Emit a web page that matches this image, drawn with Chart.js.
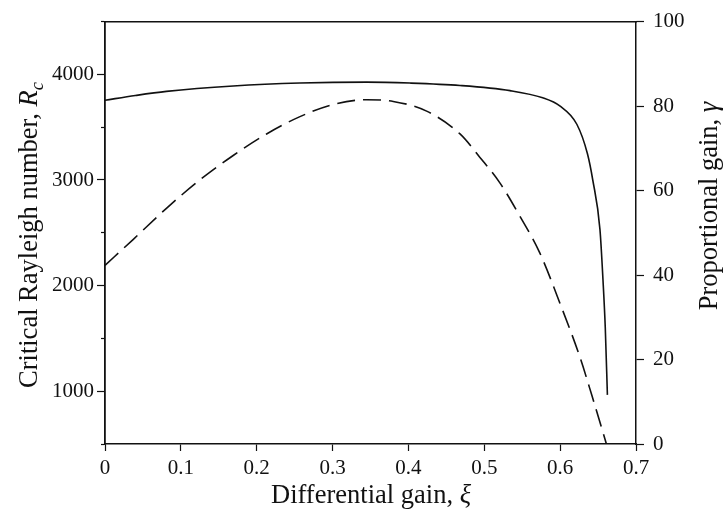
<!DOCTYPE html>
<html>
<head>
<meta charset="utf-8">
<script src="https://cdn.jsdelivr.net/npm/chart.js@4"></script>
<style>
  html, body { margin: 0; padding: 0; background: #fff; }
</style>
</head>
<body>
<canvas id="chart" width="723" height="510"></canvas>
<script>
// solid curve: critical Rayleigh number R_c (left axis)
const xiRc = [0, 0.04, 0.081, 0.169, 0.257, 0.345, 0.402, 0.468, 0.534, 0.577, 0.600, 0.622, 0.636, 0.643, 0.6525, 0.6565, 0.6595, 0.6623];
const rcValues = [3755, 3800, 3839, 3890, 3918, 3927, 3918, 3895, 3846, 3778, 3699, 3528, 3248, 3000, 2530, 2050, 1600, 965];

// dashed curve: proportional gain gamma (right axis)
const xiGamma = [0, 0.037, 0.081, 0.125, 0.169, 0.213, 0.257, 0.301, 0.345, 0.38, 0.424, 0.468, 0.494, 0.521, 0.547, 0.573, 0.600, 0.626, 0.642, 0.661];
const gammaValues = [42.3, 48.4, 55.8, 62.5, 68.3, 73.4, 77.5, 80.4, 81.5, 81.1, 78.8, 73.4, 67.9, 61.7, 53.9, 45.3, 33.2, 20.6, 11.4, 0];

// axis ranges
const xRange = [0, 0.7];
const rcRange = [500, 4500];
const gammaRange = [0, 100];

const ink = '#111';
const serif = 'Liberation Serif';

function toPoints(xs, ys) {
  return xs.map((x, i) => ({ x: x, y: ys[i] }));
}

// axis titles with italic symbols and subscript, drawn rotated like the original
const axisTitles = {
  id: 'axisTitles',
  afterDraw(chart) {
    const ctx = chart.ctx;
    drawRich(ctx, [
      { text: 'Critical Rayleigh number, ' },
      { text: 'R', italic: true },
      { text: 'c', italic: true, sub: true }
    ], 28, 235, -Math.PI / 2, 26.5);
    drawRich(ctx, [
      { text: 'Proportional gain, ' },
      { text: 'γ', italic: true }
    ], 708, 206, -Math.PI / 2, 26.5);
    drawRich(ctx, [
      { text: 'Differential gain, ' },
      { text: 'ξ', italic: true }
    ], 371, 494, 0, 26.5);
  }
};

function drawRich(ctx, parts, cx, cy, angle, size) {
  ctx.save();
  ctx.translate(cx, cy);
  ctx.rotate(angle);
  ctx.fillStyle = ink;
  ctx.textBaseline = 'alphabetic';
  ctx.textAlign = 'left';
  let total = 0;
  parts.forEach((p) => {
    p.size = p.sub ? size * 0.7 : size;
    p.font = (p.italic ? 'italic ' : '') + p.size + 'px "' + serif + '"';
    ctx.font = p.font;
    p.w = ctx.measureText(p.text).width;
    total += p.w;
  });
  let x = -total / 2;
  const base = size * 0.33;
  parts.forEach((p) => {
    ctx.font = p.font;
    ctx.fillText(p.text, x, base + (p.sub ? size * 0.22 : 0));
    x += p.w;
  });
  ctx.restore();
}

new Chart(document.getElementById('chart'), {
  type: 'line',
  data: {
    datasets: [
      {
        label: 'Critical Rayleigh number',
        data: toPoints(xiRc, rcValues),
        yAxisID: 'y',
        borderColor: ink,
        borderWidth: 1.6,
        pointRadius: 0,
        cubicInterpolationMode: 'monotone',
        fill: false
      },
      {
        label: 'Proportional gain',
        data: toPoints(xiGamma, gammaValues),
        yAxisID: 'y2',
        borderColor: ink,
        borderWidth: 1.6,
        borderDash: [18, 8],
        pointRadius: 0,
        cubicInterpolationMode: 'monotone',
        fill: false
      }
    ]
  },
  options: {
    responsive: false,
    animation: false,
    devicePixelRatio: 1,
    layout: { padding: 0 },
    plugins: {
      legend: { display: false },
      tooltip: { enabled: false }
    },
    scales: {
      x: {
        type: 'linear',
        position: 'bottom',
        min: xRange[0],
        max: xRange[1],
        afterFit: (s) => { s.height = 66; },
        border: { display: true, color: ink, width: 1.5 },
        grid: { drawOnChartArea: false, drawTicks: true, tickLength: 7, tickColor: ink, tickWidth: 1.2 },
        ticks: {
          stepSize: 0.1,
          padding: 5,
          color: ink,
          font: { family: serif, size: 21 },
          maxRotation: 0,
          autoSkip: false,
          callback: (v) => (v === 0 ? '0' : Number(v).toFixed(1))
        }
      },
      xTop: {
        type: 'linear',
        position: 'top',
        min: xRange[0],
        max: xRange[1],
        afterFit: (s) => { s.height = 16; },
        border: { display: true, color: ink, width: 1.5 },
        grid: { drawOnChartArea: false, drawTicks: false },
        ticks: { display: false }
      },
      y: {
        type: 'linear',
        position: 'left',
        min: rcRange[0],
        max: rcRange[1],
        afterFit: (s) => { s.width = 105; },
        border: { display: true, color: ink, width: 1.8 },
        grid: {
          drawOnChartArea: false,
          drawTicks: true,
          tickLength: 8,
          tickColor: ink,
          tickWidth: 1.2,
          tickBorderDash: [8, 4],
          tickBorderDashOffset: (c) => (c.tick && c.tick.value % 1000 !== 0 ? 8 : 0)
        },
        ticks: {
          stepSize: 500,
          padding: 3,
          color: ink,
          autoSkip: false,
          font: { family: serif, size: 21 },
          callback: (v) => (v % 1000 === 0 ? String(v) : '')
        }
      },
      y2: {
        type: 'linear',
        position: 'right',
        min: gammaRange[0],
        max: gammaRange[1],
        afterFit: (s) => { s.width = 87; },
        border: { display: true, color: ink, width: 1.5 },
        grid: { drawOnChartArea: false, drawTicks: true, tickLength: 8, tickColor: ink, tickWidth: 1.2 },
        ticks: {
          stepSize: 20,
          padding: 9,
          color: ink,
          autoSkip: false,
          font: { family: serif, size: 21 }
        }
      }
    }
  },
  plugins: [axisTitles]
});
</script>
</body>
</html>
